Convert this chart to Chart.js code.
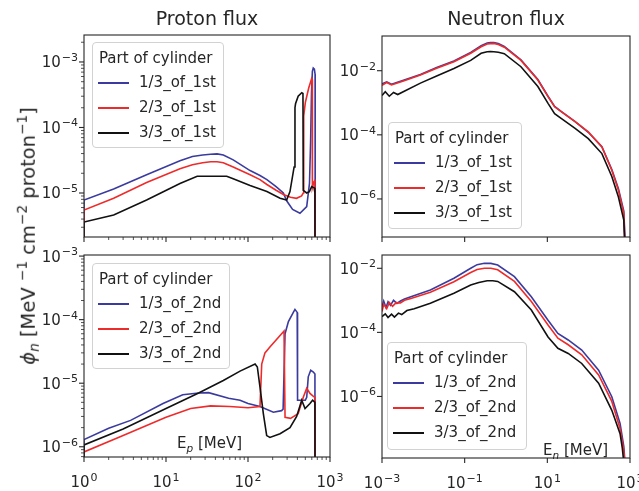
<!DOCTYPE html>
<html>
<head>
<meta charset="utf-8">
<script src="https://cdn.jsdelivr.net/npm/chart.js@4.4.1/dist/chart.umd.min.js"></script>
<style>
  body { margin: 0; background: #fff; font-family: "DejaVu Sans", sans-serif; color: #262626; }
  #page { position: relative; width: 639px; height: 491px; overflow: hidden; }
  #page canvas { position: absolute; left: 0; top: 0; }
  .title { position: absolute; top: 7px; font-size: 19px; line-height: 22px; transform: translateX(-50%); white-space: nowrap; }
  .ylabel { position: absolute; left: 28px; top: 236px; font-size: 19.5px; white-space: nowrap;
            transform: translate(-50%, -50%) rotate(-90deg); }
  .ylabel sup, .xlabel sup { font-size: 70%; }
  .ylabel sub, .xlabel sub { font-size: 70%; font-style: italic; }
  .xlabel { position: absolute; font-size: 15px; line-height: 18px; white-space: nowrap; }
  .legend { position: absolute; border: 1px solid #d2d2d2; border-radius: 4px; background: rgba(255,255,255,0.85);
            font-size: 15px; line-height: 18px; box-sizing: border-box; }
  .legend div { position: absolute; white-space: nowrap; }
  .legend .sw { height: 2px; width: 31px; }
</style>
</head>
<body>
<div id="page">
  <div class="title" style="left:207px">Proton flux</div>
  <div class="title" style="left:506px">Neutron flux</div>
  <div class="ylabel"><i>ϕ</i><sub>n</sub> [MeV <sup>−1</sup> cm<sup>−2</sup> proton<sup>−1</sup>]</div>
  <div class="xlabel" style="left:177px;top:434px">E<sub>p</sub> [MeV]</div>
  <div class="xlabel" style="left:543px;top:441px">E<sub>n</sub> [MeV]</div>
</div>
<script>
// proton flux, 1st cylinder (E in MeV)
const p1E_13 = [1, 1, 2.3, 5.8, 14.8, 21, 28, 35, 42, 50, 66, 106, 140, 170, 220, 270, 296, 350, 430, 520, 562, 580, 595, 610, 625, 645, 658, 660];
const p1Flux_13 = [1e-9, 7.8e-6, 1.15e-5, 1.9e-5, 3.1e-5, 3.6e-5, 3.8e-5, 3.9e-5, 3.95e-5, 3.8e-5, 3.2e-5, 2.2e-5, 1.85e-5, 1.6e-5, 1.25e-5, 1.0e-5, 7.6e-6, 5.6e-6, 4.9e-6, 6.2e-6, 1.4e-5, 6e-5, 3.5e-4, 7.2e-4, 8.1e-4, 7.8e-4, 6.5e-4, 1e-9];
const p1E_23 = [1, 1, 2.3, 5.8, 14.8, 21, 28, 35, 42, 50, 66, 106, 140, 170, 220, 270, 330, 390, 450, 472, 478, 500, 550, 598, 606, 610, 640, 655, 660];
const p1Flux_23 = [1e-9, 5.5e-6, 8.3e-6, 1.45e-5, 2.35e-5, 2.7e-5, 2.9e-5, 3.0e-5, 3.0e-5, 2.9e-5, 2.5e-5, 1.9e-5, 1.6e-5, 1.35e-5, 1.1e-5, 9.5e-6, 8.6e-6, 8.3e-6, 9.0e-6, 1.0e-5, 1.5e-4, 2.4e-4, 4.0e-4, 5.6e-4, 5.4e-4, 1.2e-5, 1.5e-5, 1.6e-5, 1e-9];
const p1E_33 = [1, 1, 2.3, 5.8, 14.8, 24, 35, 55, 66, 106, 170, 246, 296, 325, 365, 374, 380, 409, 452, 468, 472, 520, 560, 598, 640, 655, 660];
const p1Flux_33 = [1e-9, 3.6e-6, 4.6e-6, 7.8e-6, 1.4e-5, 1.8e-5, 1.8e-5, 1.8e-5, 1.65e-5, 1.3e-5, 1.05e-5, 8.3e-6, 7.8e-6, 1.05e-5, 2.5e-5, 2.0e-4, 2.3e-4, 3.0e-4, 3.4e-4, 3.3e-4, 1.1e-5, 1.0e-5, 1.05e-5, 1.25e-5, 1.2e-5, 1.0e-5, 1e-9];

// proton flux, 2nd cylinder
const p2E_13 = [1, 1, 2, 3.7, 9.2, 16, 25, 33, 58, 80, 100, 140, 204, 257, 268, 283, 311, 357, 374, 398, 402, 500, 520, 543, 582, 627, 655, 660];
const p2Flux_13 = [1e-9, 1.3e-6, 1.95e-6, 2.6e-6, 4.8e-6, 6.6e-6, 7.0e-6, 7.1e-6, 5.8e-6, 5.4e-6, 4.8e-6, 4.3e-6, 3.5e-6, 3.7e-6, 3.9e-6, 6.0e-5, 9.3e-5, 1.3e-4, 1.45e-4, 1.3e-4, 5.4e-6, 5.4e-6, 6.0e-6, 1.26e-5, 1.6e-5, 1.5e-5, 1.4e-5, 1e-9];
const p2E_23 = [1, 1, 3, 10, 20, 35, 60, 100, 140, 147, 161, 185, 257, 275, 283, 330, 409, 472, 520, 570, 627, 655, 660];
const p2Flux_23 = [1e-9, 8.3e-7, 1.5e-6, 2.9e-6, 4.0e-6, 4.4e-6, 4.3e-6, 4.1e-6, 4.3e-6, 2.0e-5, 3.0e-5, 3.7e-5, 6.0e-5, 6.6e-5, 2.9e-6, 2.8e-6, 3.3e-6, 6.0e-6, 8.3e-6, 6.9e-6, 6.2e-6, 6.0e-6, 1e-9];
const p2E_33 = [1, 1, 3, 10, 25, 50, 80, 122, 130, 140, 154, 169, 185, 246, 325, 392, 452, 496, 570, 614, 655, 660];
const p2Flux_33 = [1e-9, 1.07e-6, 1.9e-6, 4.0e-6, 7.0e-6, 1.1e-5, 1.55e-5, 2.0e-5, 1.8e-5, 8.7e-6, 3.3e-6, 1.5e-6, 1.4e-6, 1.6e-6, 2.0e-6, 3.0e-6, 5.4e-6, 4.0e-6, 4.8e-6, 5.4e-6, 5.0e-6, 1e-9];

// neutron flux, 1st cylinder
const n1E_13 = [0.001, 0.0013, 0.0017, 0.0033, 0.0085, 0.021, 0.055, 0.14, 0.25, 0.35, 0.42, 0.51, 0.65, 0.91, 2.3, 5.9, 10.4, 15, 22, 47, 98, 209, 363, 525, 708, 760, 760];
const n1Flux_13 = [3.9e-3, 4.5e-3, 3.8e-3, 5.0e-3, 7.6e-3, 1.25e-2, 2.0e-2, 3.7e-2, 6.0e-2, 7.3e-2, 7.5e-2, 7.5e-2, 7.0e-2, 5.7e-2, 2.2e-2, 5.3e-3, 1.6e-3, 7.7e-4, 5.3e-4, 2.6e-4, 1.2e-4, 4.3e-5, 8.3e-6, 2.1e-6, 4.2e-7, 5e-8, 1e-12];
const n1E_23 = [0.001, 0.0013, 0.0017, 0.0033, 0.0085, 0.021, 0.055, 0.14, 0.25, 0.35, 0.42, 0.51, 0.65, 0.91, 2.3, 5.9, 10.4, 15, 22, 47, 98, 209, 363, 525, 708, 750, 750];
const n1Flux_23 = [3.5e-3, 4.3e-3, 3.6e-3, 4.8e-3, 7.4e-3, 1.2e-2, 1.9e-2, 3.5e-2, 5.6e-2, 6.8e-2, 7.0e-2, 7.1e-2, 6.6e-2, 5.4e-2, 2.1e-2, 5.1e-3, 1.55e-3, 7.5e-4, 5.2e-4, 2.6e-4, 1.23e-4, 4.2e-5, 7.9e-6, 1.86e-6, 3.5e-7, 5e-8, 1e-12];
const n1E_33 = [0.001, 0.0012, 0.0015, 0.0019, 0.0024, 0.0085, 0.021, 0.055, 0.14, 0.25, 0.35, 0.42, 0.51, 0.65, 0.91, 2.3, 5.9, 10.4, 15, 22, 47, 98, 209, 363, 525, 708, 740, 740];
const n1Flux_33 = [1.7e-3, 2.2e-3, 1.6e-3, 2.1e-3, 1.8e-3, 4.1e-3, 6.8e-3, 1.17e-2, 2.1e-2, 3.5e-2, 3.9e-2, 3.95e-2, 3.9e-2, 3.75e-2, 3.4e-2, 1.33e-2, 3.2e-3, 9.6e-4, 4.6e-4, 3.2e-4, 1.6e-4, 7.6e-5, 2.6e-5, 5.0e-6, 1.15e-6, 2.2e-7, 5e-8, 1e-12];

// neutron flux, 2nd cylinder
const n2E_13 = [0.001, 0.0011, 0.00125, 0.0014, 0.0016, 0.0019, 0.0023, 0.0028, 0.0035, 0.005, 0.0148, 0.055, 0.14, 0.2, 0.30, 0.43, 0.63, 1.6, 4.1, 10.4, 18, 32, 68, 174, 363, 575, 708, 760, 760];
const n2Flux_13 = [6.3e-4, 9.5e-4, 6.0e-4, 9.0e-4, 7.0e-4, 1.0e-3, 8.0e-4, 9.5e-4, 1.1e-3, 1.3e-3, 2.1e-3, 4.9e-3, 1.0e-2, 1.3e-2, 1.44e-2, 1.42e-2, 1.26e-2, 5.5e-3, 1.3e-3, 2.4e-4, 9.3e-5, 5.8e-5, 2.8e-5, 6.6e-6, 9.8e-7, 1.45e-7, 2.7e-8, 8e-9, 1e-12];
const n2E_23 = [0.001, 0.0011, 0.0013, 0.0015, 0.0018, 0.0022, 0.0028, 0.0035, 0.005, 0.0148, 0.055, 0.14, 0.2, 0.30, 0.43, 0.63, 1.6, 4.1, 10.4, 18, 32, 68, 174, 363, 575, 708, 750, 750];
const n2Flux_23 = [4.5e-4, 7.5e-4, 5.5e-4, 8.5e-4, 6.5e-4, 8.5e-4, 8.3e-4, 1.0e-3, 1.15e-3, 1.8e-3, 3.8e-3, 7.4e-3, 9.2e-3, 1.0e-2, 1.0e-2, 9.0e-3, 3.9e-3, 9.2e-4, 1.7e-4, 6.6e-5, 4.1e-5, 2.0e-5, 4.7e-6, 7.0e-7, 1.0e-7, 2.0e-8, 8e-9, 1e-12];
const n2E_33 = [0.001, 0.0012, 0.0014, 0.0017, 0.002, 0.0025, 0.003, 0.004, 0.006, 0.0148, 0.055, 0.14, 0.22, 0.35, 0.48, 0.63, 1.6, 4.1, 10.4, 18, 32, 68, 174, 363, 575, 650, 700, 700];
const n2Flux_33 = [3.1e-4, 3.8e-4, 2.9e-4, 3.7e-4, 3.0e-4, 4.0e-4, 3.6e-4, 4.8e-4, 5.5e-4, 8.1e-4, 1.66e-3, 3.0e-3, 3.6e-3, 4.1e-3, 4.1e-3, 3.9e-3, 1.86e-3, 5.0e-4, 7.2e-5, 3.2e-5, 2.2e-5, 1.07e-5, 2.6e-6, 3.7e-7, 6.9e-8, 2.5e-8, 1e-8, 1e-12];

const legendTitle = 'Part of cylinder';
const parts1st = ['1/3_of_1st', '2/3_of_1st', '3/3_of_1st'];
const parts2nd = ['1/3_of_2nd', '2/3_of_2nd', '3/3_of_2nd'];
const lineColors = ['#3b3b9f', '#ee2b2b', '#111111'];

const xTicksProton = [1, 10, 100, 1000];
const xTicksNeutron = [1e-3, 1e-1, 1e1, 1e3];
const yTicksP1 = [1e-5, 1e-4, 1e-3];
const yTicksP2 = [1e-6, 1e-5, 1e-4, 1e-3];
const yTicksN = [1e-6, 1e-4, 1e-2];

const W = 639, H = 491;

const panels = [
  { box: [84, 35, 330, 237], x: [1, 1000], y: [2.13e-6, 2.58e-3], xTicks: xTicksProton, yTicks: yTicksP1,
    minor: true, xLabels: false, names: parts1st, legend: [92, 42, 132, 106],
    series: [[p1E_13, p1Flux_13], [p1E_23, p1Flux_23], [p1E_33, p1Flux_33]] },
  { box: [84, 255, 330, 457], x: [1, 1000], y: [6.9e-7, 1.04e-3], xTicks: xTicksProton, yTicks: yTicksP2,
    minor: true, xLabels: true, names: parts2nd, legend: [92, 263, 138, 106],
    series: [[p2E_13, p2Flux_13], [p2E_23, p2Flux_23], [p2E_33, p2Flux_33]] },
  { box: [382, 36, 630, 237], x: [1e-3, 1e3], y: [6.5e-8, 0.121], xTicks: xTicksNeutron, yTicks: yTicksN,
    minor: false, xLabels: false, names: parts1st, legend: [388, 122, 134, 107],
    series: [[n1E_13, n1Flux_13], [n1E_23, n1Flux_23], [n1E_33, n1Flux_33]] },
  { box: [382, 255, 630, 458], x: [1e-3, 1e3], y: [1.2e-8, 0.026], xTicks: xTicksNeutron, yTicks: yTicksN,
    minor: false, xLabels: true, names: parts2nd, legend: [387, 342, 140, 108],
    series: [[n2E_13, n2Flux_13], [n2E_23, n2Flux_23], [n2E_33, n2Flux_33]] }
];

const pts = (xs, ys) => xs.map((x, i) => ({ x: x, y: ys[i] }));

function minorValues(range) {
  const out = [];
  for (let d = Math.floor(Math.log10(range[0])); d <= Math.ceil(Math.log10(range[1])); d++) {
    for (let k = 2; k <= 9; k++) {
      const v = k * Math.pow(10, d);
      if (v > range[0] && v < range[1]) out.push(v);
    }
  }
  return out;
}

// "10" with a raised exponent, like mathtext tick labels
function powLabel(ctx, v, x, y, align) {
  const e = Math.round(Math.log10(v));
  const sup = (e < 0 ? '\u2212' : '') + Math.abs(e);
  ctx.font = '15px "DejaVu Sans"';
  const wb = ctx.measureText('10').width;
  ctx.font = '11px "DejaVu Sans"';
  const ws = ctx.measureText(sup).width;
  const x0 = align === 'right' ? x - wb - ws - 1 : x - (wb + ws + 1) / 2;
  ctx.textAlign = 'left';
  ctx.textBaseline = 'alphabetic';
  ctx.font = '15px "DejaVu Sans"';
  ctx.fillText('10', x0, y);
  ctx.font = '11px "DejaVu Sans"';
  ctx.fillText(sup, x0 + wb + 1, y - 6.5);
}

function axesPlugin(p) {
  return {
    id: 'mplAxes',
    afterDatasetsDraw(chart) {
      const { ctx, chartArea: a, scales } = chart;
      ctx.save();
      ctx.strokeStyle = '#262626';
      ctx.fillStyle = '#262626';
      ctx.lineWidth = 1.1;
      ctx.strokeRect(a.left, a.top, a.right - a.left, a.bottom - a.top);
      const tick = (x0, y0, dx, dy) => {
        ctx.beginPath(); ctx.moveTo(x0, y0); ctx.lineTo(x0 + dx, y0 + dy); ctx.stroke();
      };
      p.xTicks.forEach(v => tick(scales.x.getPixelForValue(v), a.bottom, 0, 5));
      p.yTicks.forEach(v => tick(a.left, scales.y.getPixelForValue(v), -5, 0));
      if (p.minor) {
        ctx.lineWidth = 0.8;
        minorValues(p.x).forEach(v => tick(scales.x.getPixelForValue(v), a.bottom, 0, 3));
        minorValues(p.y).forEach(v => tick(a.left, scales.y.getPixelForValue(v), -3, 0));
      }
      p.yTicks.forEach(v => powLabel(ctx, v, a.left - 6, scales.y.getPixelForValue(v) + 5.5, 'right'));
      if (p.xLabels) {
        p.xTicks.forEach(v => powLabel(ctx, v, scales.x.getPixelForValue(v), a.bottom + 30, 'center'));
      }
      ctx.restore();
    }
  };
}

const page = document.getElementById('page');

panels.forEach(p => {
  const canvas = document.createElement('canvas');
  canvas.width = W;
  canvas.height = H;
  page.insertBefore(canvas, page.firstChild);

  new Chart(canvas.getContext('2d'), {
    type: 'line',
    data: {
      datasets: p.series.map((s, i) => ({
        label: p.names[i],
        data: pts(s[0], s[1]),
        borderColor: lineColors[i],
        borderWidth: 1.6,
        pointRadius: 0,
        tension: 0,
        fill: false,
        order: 2 - i
      }))
    },
    options: {
      responsive: false,
      animation: false,
      devicePixelRatio: 1,
      layout: { padding: { left: p.box[0], top: p.box[1], right: W - p.box[2], bottom: H - p.box[3] } },
      scales: {
        x: { type: 'logarithmic', min: p.x[0], max: p.x[1], display: false },
        y: { type: 'logarithmic', min: p.y[0], max: p.y[1], display: false }
      },
      plugins: { legend: { display: false }, tooltip: { enabled: false } }
    },
    plugins: [axesPlugin(p)]
  });

  // legend box drawn as html over the plot
  const lg = document.createElement('div');
  lg.className = 'legend';
  lg.style.left = p.legend[0] + 'px';
  lg.style.top = p.legend[1] + 'px';
  lg.style.width = p.legend[2] + 'px';
  lg.style.height = p.legend[3] + 'px';
  let html = '<div style="left:6px;top:6px">' + legendTitle + '</div>';
  p.names.forEach((name, i) => {
    const y = 30 + i * 25;
    html += '<div class="sw" style="left:5px;top:' + (y + 9) + 'px;background:' + lineColors[i] + '"></div>';
    html += '<div style="left:46px;top:' + y + 'px">' + name + '</div>';
  });
  lg.innerHTML = html;
  page.appendChild(lg);
});
</script>
</body>
</html>
